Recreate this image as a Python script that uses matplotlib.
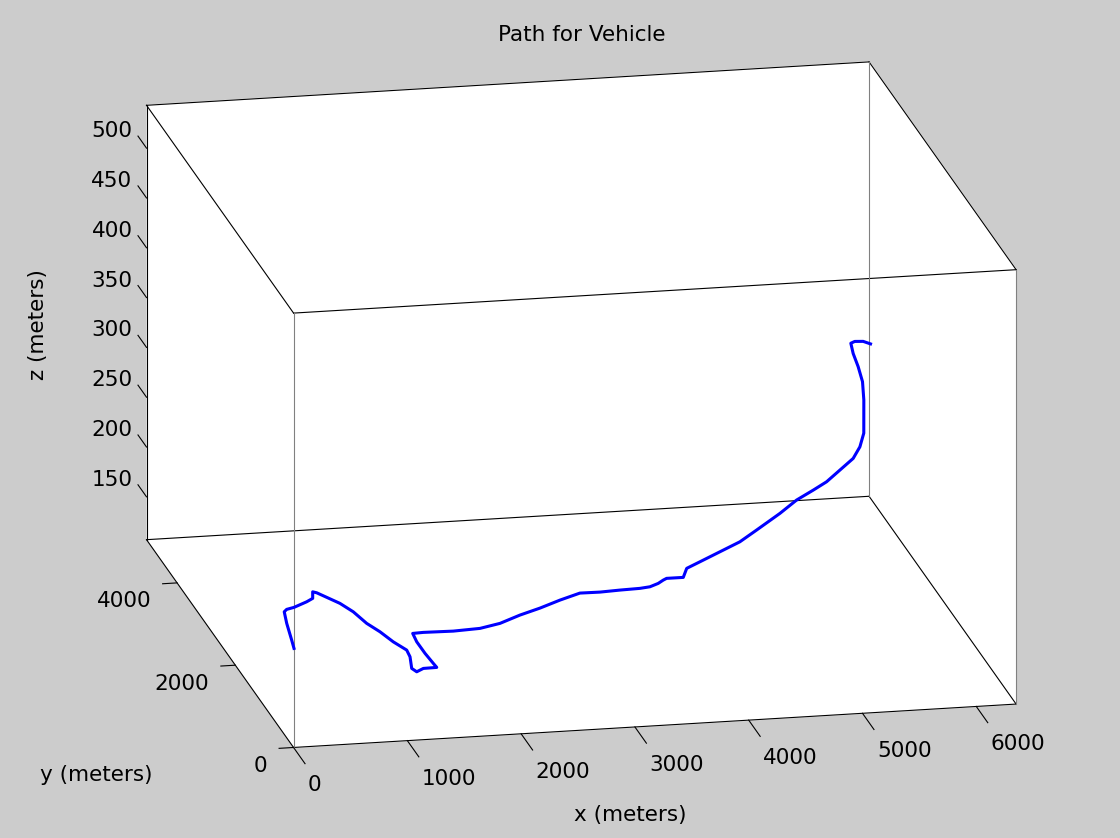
import matplotlib
matplotlib.use('Agg')
import matplotlib.pyplot as plt
import matplotlib.transforms as mtransforms

# vehicle path in meters
path_x = [357, 387, 445, 493, 528, 601, 742, 813, 852, 880, 922, 1013, 1075, 1119,
          1181, 1233, 1297, 1285, 1230, 1252, 1328, 1447, 1442, 1432, 1431, 1447,
          1542, 1803, 2044, 2243, 2460, 2671, 2888, 3097, 3272, 3452, 3631, 3725,
          3815, 3877, 3916, 4062, 4145, 4296, 4524, 4752, 4951, 5235, 5443, 5631,
          5781, 5945, 6109, 6211, 6278, 6286, 6277, 6241, 6200, 6182, 6214, 6285, 6350]
path_y = [1380, 1577, 1974, 2247, 2300, 2336, 2449, 2520, 2673, 2645, 2557, 2365,
          2150, 1862, 1647, 1394, 1183, 1022, 749, 663, 732, 737, 835, 1080, 1362,
          1563, 1572, 1560, 1586, 1675, 1840, 1975, 2134, 2269, 2264, 2283, 2295,
          2318, 2385, 2455, 2491, 2490, 2696, 2831, 3036, 3241, 3445, 3754, 3995,
          4157, 4286, 4470, 4654, 4822, 4950, 4980, 4990, 5000, 5010, 5020, 5010, 5000, 5000]
path_z = [147] * 46 + [149, 151, 153, 155, 157, 160, 163, 167, 175, 207, 225, 240,
                       253, 263, 265, 265, 262]

x_lim = (0, 6350)
y_lim = (0, 5050)
z_lim = (107, 543)
x_ticks = [0, 1000, 2000, 3000, 4000, 5000, 6000]
y_ticks = [0, 2000, 4000]
z_ticks = [150, 200, 250, 300, 350, 400, 450, 500]

plt.rcParams['font.family'] = 'DejaVu Sans'
fs = 15.5
W, H = 1120, 838

fig = plt.figure(figsize=(11.2, 8.38), dpi=100, facecolor='#cccccc')
# big square 3d axes (1200 px) so nothing of the box gets clipped
ax = fig.add_axes([-34.9 / W, -182.9 / H, 1200 / W, 1200 / H], projection='3d', proj_type='ortho')
ax.set_facecolor('#cccccc')
ax.patch.set_visible(False)
ax.computed_zorder = False
ax.view_init(elev=16.94, azim=-101.65)
ax.set_box_aspect((1, 0.987, 0.6155), zoom=0.9155)
ax.set_xlim(*x_lim, view_margin=0)
ax.set_ylim(*y_lim, view_margin=0)
ax.set_zlim(*z_lim, view_margin=0)

for axis in (ax.xaxis, ax.yaxis, ax.zaxis):
    axis.set_pane_color((1, 1, 1, 1))
    axis.pane.set_edgecolor((1, 1, 1, 0))
    axis.line.set_visible(False)
ax.set_xticks([])
ax.set_yticks([])
ax.set_zticks([])
ax.grid(False)

x0, x1 = x_lim
y0, y1 = y_lim
z0, z1 = z_lim
edges = [
    ([x0, x1], [y0, y0], [z0, z0], 'k'), ([x0, x0], [y0, y1], [z0, z0], 'k'),
    ([x0, x1], [y1, y1], [z0, z0], 'k'), ([x1, x1], [y0, y1], [z0, z0], 'k'),
    ([x0, x1], [y0, y0], [z1, z1], 'k'), ([x0, x0], [y0, y1], [z1, z1], 'k'),
    ([x0, x1], [y1, y1], [z1, z1], 'k'), ([x1, x1], [y0, y1], [z1, z1], 'k'),
    ([x0, x0], [y1, y1], [z0, z1], 'k'), ([x0, x0], [y0, y0], [z0, z1], '#808080'),
    ([x1, x1], [y0, y0], [z0, z1], '#808080'), ([x1, x1], [y1, y1], [z0, z1], '#808080'),
]
for ex, ey, ez, c in edges:
    ax.plot(ex, ey, ez, color=c, lw=0.8, zorder=1)


def off(dx, dy):
    return mtransforms.offset_copy(ax.transData, fig=fig, x=dx, y=dy, units='dots')


for t in x_ticks:
    ax.plot([t, t], [y0, y0 - 0.078 * (y1 - y0)], [z0, z0], color='k', lw=0.8, zorder=1)
    ax.text(t, y0, z0, str(t), transform=off(14.5, -38), ha='left', va='center', fontsize=fs)
for t in y_ticks:
    ax.plot([x0, x0 - 0.02 * (x1 - x0)], [t, t], [z0, z0], color='k', lw=0.8, zorder=1)
    ax.text(x0, t, z0, str(t), transform=off(-26, -18.5), ha='right', va='center', fontsize=fs)
for t in z_ticks:
    ax.plot([x0, x0], [y1, y1 + 0.058 * (y1 - y0)], [t, t], color='k', lw=0.8, zorder=1)
    ax.text(x0, y1, t, str(t), transform=off(-14, 17), ha='right', va='center', fontsize=fs)

ax.plot(path_x, path_y, path_z, color='b', lw=2.2, zorder=5)

fig.text(582 / W, 1 - 35 / H, 'Path for Vehicle', ha='center', va='center', fontsize=fs)
fig.text(38 / W, 1 - 325 / H, 'z (meters)', ha='center', va='center', rotation=90, fontsize=fs)
fig.text(96.7 / W, 1 - 775 / H, 'y (meters)', ha='center', va='center', fontsize=fs)
fig.text(630 / W, 1 - 815 / H, 'x (meters)', ha='center', va='center', fontsize=fs)

fig.savefig('out.png', dpi=100, facecolor=fig.get_facecolor())
